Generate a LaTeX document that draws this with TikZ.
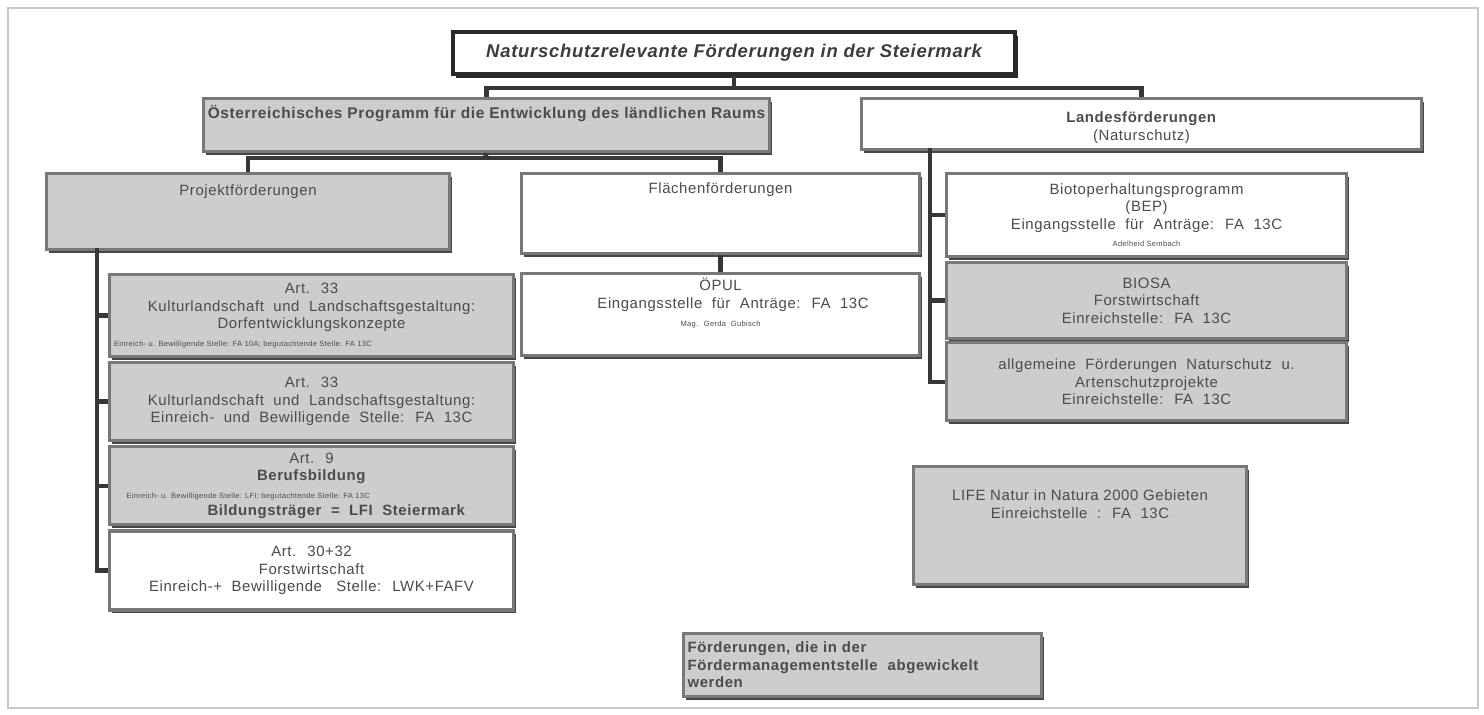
\documentclass[tikz,border=0pt]{standalone}
\usepackage{fontspec}
\setmainfont{Liberation Sans}[LetterSpace=4]
\usepackage{tikz}
\usetikzlibrary{positioning, shadows}
\definecolor{boxgrey}{RGB}{205,205,205}
\definecolor{boxline}{RGB}{120,120,120}
\definecolor{shadegrey}{RGB}{70,70,70}
\definecolor{linedark}{RGB}{55,55,55}
\definecolor{titleline}{RGB}{40,40,40}
\definecolor{textgrey}{RGB}{75,75,75}
\definecolor{framegrey}{RGB}{200,200,200}
\newcommand{\boxfont}{\fontsize{8.5}{10}\selectfont}
\newcommand{\tinynote}{\fontsize{4.3}{5}\selectfont}
\tikzset{
  greybox/.style={rectangle, draw=boxline, fill=boxgrey, line width=1.8pt,
    align=center, font=\boxfont, text=textgrey, inner sep=2pt,
    drop shadow={shadow xshift=1.2pt, shadow yshift=-1.8pt, fill=shadegrey, opacity=1}},
  whitebox/.style={greybox, fill=white},
  titlebox/.style={rectangle, draw=titleline, fill=white, line width=2.6pt,
    minimum width=11.24cm, minimum height=0.84cm,
    font=\fontsize{10.5}{12}\selectfont\bfseries\itshape, text=textgrey!80!black,
    drop shadow={shadow xshift=1.5pt, shadow yshift=-2pt, fill=titleline, opacity=1}},
  conn/.style={line width=2.6pt, color=linedark},
  frameline/.style={line width=0.6pt, color=framegrey}
}

\begin{document}
\begin{tikzpicture}[x=0.02cm, y=-0.02cm, node distance=0.06cm]
  \useasboundingbox (0,0) rectangle (1484,715);
  \draw[frameline] (8,8) rectangle (1478,708);

  % top level
  \node[titlebox] (title) at (734,53) {Naturschutzrelevante Förderungen in der Steiermark};
  \node[greybox, anchor=north west, minimum width=11.32cm, minimum height=1.06cm,
    text height=0.33cm, text depth=0.59cm, font=\fontsize{8.8}{10}\selectfont\bfseries] (oest) at (202,97)
    {Österreichisches Programm für die Entwicklung des ländlichen Raums};
  \node[whitebox, anchor=north west, minimum width=11.2cm, minimum height=1.02cm] (landes) at (860,97)
    {\rule{0pt}{0.36cm}\textbf{Landesförderungen}\\(Naturschutz)};

  % second level
  \node[greybox, anchor=north west, minimum width=8.06cm, minimum height=1.52cm,
    text height=0.37cm, text depth=1.0cm] (projekt) at (45,172) {Projektförderungen};
  \node[whitebox, anchor=north west, minimum width=7.96cm, minimum height=1.6cm,
    text height=0.33cm, text depth=1.13cm] (flaechen) at (520,172) {Flächenförderungen};

  % Projektfoerderungen column
  \node[greybox, anchor=north west, minimum width=8.08cm, minimum height=1.64cm] (art33a) at (108,273)
    {Art. \ 33\\Kulturlandschaft \ und \ Landschaftsgestaltung:\\Dorfentwicklungskonzepte\\
     \makebox[7.9cm][l]{\tinynote Einreich- u. Bewilligende Stelle: FA 10A; begutachtende Stelle: FA 13C}};
  \node[greybox, below=of art33a, minimum width=8.08cm, minimum height=1.56cm] (art33b)
    {Art. \ 33\\Kulturlandschaft \ und \ Landschaftsgestaltung:\\Einreich- \ und \ Bewilligende \ Stelle: \ FA \ 13C};
  \node[greybox, below=of art33b, minimum width=8.08cm, minimum height=1.56cm] (art9)
    {Art. \ 9\\\textbf{Berufsbildung}\\
     \makebox[7.4cm][l]{\tinynote Einreich- u. Bewilligende Stelle: LFI; begutachtende Stelle: FA 13C}\\
     \hspace*{1.0cm}\textbf{Bildungsträger \ = \ LFI \ Steiermark}};
  \node[whitebox, below=of art9, minimum width=8.08cm, minimum height=1.58cm] (art3032)
    {Art. \ 30+32\\Forstwirtschaft\\Einreich-+ \ Bewilligende \ \ Stelle: \ LWK+FAFV};

  % Flaechenfoerderungen
  \node[whitebox, below=0.34cm of flaechen, minimum width=7.96cm, minimum height=1.64cm] (oepul)
    {ÖPUL\\\hspace*{0.5cm}Eingangsstelle \ für \ Anträge: \ FA \ 13C\\{\tinynote Mag. \ Gerda \ Gubisch}\\[0.15cm]};

  % Landesfoerderungen column
  \node[whitebox, anchor=north west, minimum width=8cm, minimum height=1.66cm] (bep) at (945,172)
    {Biotoperhaltungsprogramm\\(BEP)\\Eingangsstelle \ für \ Anträge: \ FA \ 13C\\{\tinynote Adelheid Sembach}};
  \node[greybox, below=of bep, minimum width=8cm, minimum height=1.52cm] (biosa)
    {BIOSA\\Forstwirtschaft\\Einreichstelle: \ FA \ 13C};
  \node[greybox, below=0.02cm of biosa, minimum width=8cm, minimum height=1.56cm] (allg)
    {allgemeine \ Förderungen \ Naturschutz \ u.\\Artenschutzprojekte\\Einreichstelle: \ FA \ 13C};
  \node[greybox, anchor=north west, minimum width=6.66cm, minimum height=2.36cm] (life) at (912,465)
    {LIFE Natur in Natura 2000 Gebieten\\Einreichstelle \ : \ FA \ 13C\\[0.5cm]};

  % legend
  \node[greybox, anchor=north west, minimum width=7.16cm, minimum height=1.26cm,
    text width=7.0cm, align=left, font=\boxfont\bfseries, inner sep=1pt] (legend) at (682,632)
    {Förderungen, die in der\\Fördermanagementstelle \ abgewickelt\\werden};

  % connectors
  \coordinate (topbus) at (734,88);
  \draw[conn] (title.south) -- (topbus);
  \draw[conn] (oest.north) |- (topbus) -| (landes.north);
  \coordinate (leftbus) at (485,158);
  \draw[conn] (oest.south) -- (leftbus);
  \draw[conn] (projekt.north) |- (leftbus) -| (flaechen.north);
  \draw[conn] (flaechen.south) -- (oepul.north);
  \coordinate (lspine) at (97,248);
  \draw[conn] (lspine) |- (art3032.west);
  \foreach \n in {art33a, art33b, art9}
    \draw[conn] (lspine |- \n.west) -- (\n.west);
  \coordinate (rspine) at (930,148);
  \draw[conn] (rspine) |- (allg.west);
  \foreach \n in {bep, biosa}
    \draw[conn] (rspine |- \n.west) -- (\n.west);
\end{tikzpicture}
\end{document}
